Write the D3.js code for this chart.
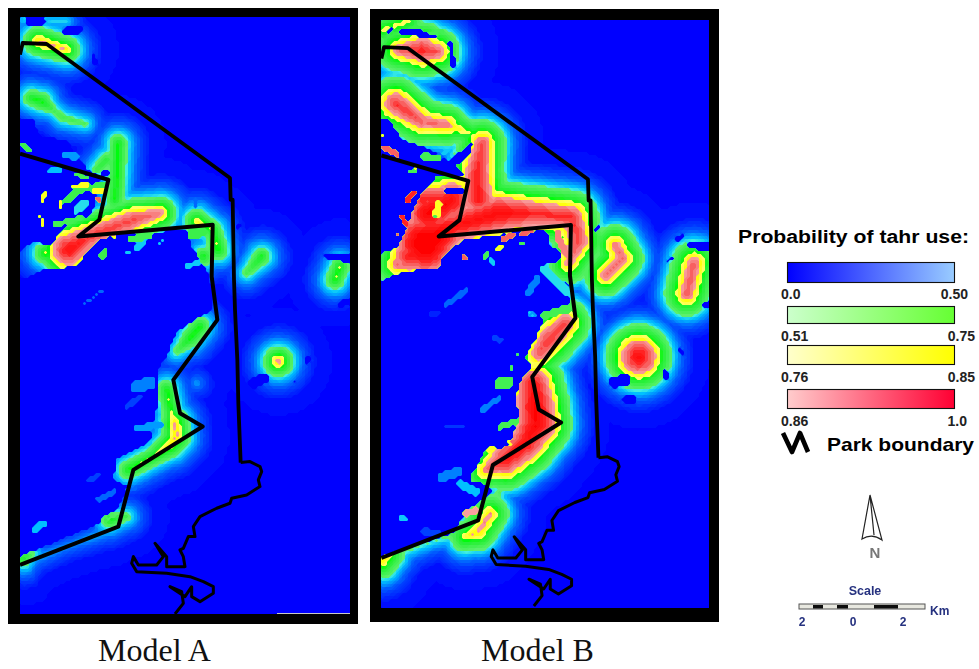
<!DOCTYPE html>
<html><head><meta charset="utf-8">
<script src="https://cdn.jsdelivr.net/npm/d3@7"></script>
<style>html,body{margin:0;background:#fff}svg{display:block}</style></head>
<body><div id="c"></div>
<script>
// ---- Map data, in map-grid units ----
// park boundary: shared by both models
const parkWest = [[60,462],[325,540],[298,660],[235,710],[638,675],[635,830],[652,960],[652,960],[520,1140],[540,1240],[608,1280],[400,1410],[355,1580],[60,1695]];
const parkEast = [[60,165],[68,130],[140,133],[690,535],[692,600],[698,600],[702,840],[705,930],[712,1080],[715,1210],[722,1388]];
const coast = [[722,1388],[750,1385],[780,1400],[785,1415],[775,1440],[780,1460],[740,1485],[695,1495],[690,1510],[650,1525],[600,1550],[580,1580],[585,1610],[565,1610],[550,1645],[540,1650],[550,1670],[555,1700],[500,1700],[500,1670],[465,1630],[490,1670],[470,1695],[415,1695],[400,1670],[395,1690],[410,1715],[500,1720],[570,1730],[610,1745],[640,1760],[640,1780],[600,1805],[575,1790],[575,1760],[555,1790],[510,1760],[545,1775],[550,1810],[525,1842]];

// probability ridges: [x, y, core half-width]
const ridgesA = [
 [[115,125,5],[200,150,0]], [[70,60,-45],[200,65,-45]],
 [[95,295,-15],[125,305,-12],[165,335,-30],[190,355,-28],[255,372,-32]],
 [[355,430,-13],[350,540,-13],[345,600,-13]], [[320,480,-20],[290,510,-25]],
 [[205,750,45],[270,710,28],[400,660,24],[480,640,10]],
 [[590,665,-3],[640,690,-14],[655,750,-10]], [[610,770,-13]],
 [[200,790,0]], [[135,760,-8]],
 [[785,770,-14],[740,820,-28]], [[1005,840,-12],[1020,800,-12]], [[720,850,-70]],
 [[530,1055,-30],[570,1015,-12],[600,980,-12]],
 [[500,1170,-12],[515,1240,-12],[525,1270,3],[530,1310,3],[510,1335,0],[460,1370,-12],[385,1410,-12]],
 [[330,1560,-15],[380,1550,-28]], [[70,1675,-15],[100,1660,-35]],
 [[835,1085,6]],
 [[60,1695,-50],[200,1640,-58],[320,1595,-50]], [[390,1530,-50]], [[590,1150,-55]]
];
const ridgesB = [
 [[100,150,15],[170,150,35],[215,155,20]], [[130,62,-10],[55,90,-10]],
 [[90,310,30],[170,365,20]], [[170,365,16],[245,375,12]], [[245,375,5],[320,400,-15]],
 [[350,430,22],[335,520,35],[340,600,40]],
 [[180,730,85],[260,680,45],[400,640,50],[500,640,35],[620,650,30],[640,720,25],[610,790,10]],
 [[100,790,18]], [[130,770,40],[200,760,50]], [[190,640,60],[260,600,50]], [[170,600,35],[230,590,30]],
 [[750,735,12],[770,775,15],[720,825,14]], [[985,790,18],[965,880,18]],
 [[600,970,25],[550,1020,30],[520,1060,20]],
 [[505,1155,45],[510,1220,55],[515,1270,55],[480,1330,45],[420,1380,40],[360,1410,10]],
 [[375,1540,5],[340,1595,5],[300,1610,-5]],
 [[60,1665,5],[50,1690,-5]],
 [[820,1070,50]],
 [[50,1675,-40],[200,1625,-50],[265,1600,-40]], [[400,1480,-40]]
];
// solid low-probability areas
const cutsA = [
 [[0,840],[60,840],[130,810],[230,800],[255,765],[300,720],[360,700],[500,695],[580,690],[570,730],[600,780],[625,820],[640,900],[640,930],[600,950],[530,1000],[500,1070],[470,1120],[470,1230],[450,1330],[350,1380],[340,1440],[390,1460],[350,1530],[305,1555],[300,1570],[110,1650],[60,1670],[0,1690]],
 [[0,360],[100,360],[120,410],[200,420],[230,470],[265,510],[310,530],[300,575],[270,650],[210,665],[150,740],[100,725],[60,755],[0,760]]
];
const cutsB = [
 [[0,840],[47,840],[100,820],[170,805],[220,810],[230,770],[290,720],[400,705],[450,690],[545,690],[550,730],[590,760],[580,790],[540,790],[560,830],[610,850],[620,930],[540,930],[530,970],[510,1020],[480,1070],[500,1100],[470,1140],[450,1190],[460,1240],[450,1290],[430,1340],[360,1350],[340,1390],[310,1440],[370,1455],[385,1475],[310,1530],[280,1570],[265,1600],[100,1650],[47,1670],[0,1680]],
 [[0,360],[75,360],[110,420],[180,440],[250,480],[330,420],[310,470],[270,500],[310,530],[215,530],[165,590],[140,640],[120,700],[100,740],[47,760],[0,760]]
];
// small patches: [probability, half-width, ...points]
const patchesA = [
 [0,10,[85,65],[130,65]],[0,12,[200,95],[240,90]],[0,6,[280,165],[285,190]],
 [.62,8,[72,435],[85,450]],[.35,12,[200,465],[225,470]],[.4,8,[150,515],[180,510]],
 [0,10,[310,520],[320,520]],[.6,6,[230,525],[265,535]],
 [.9,4,[140,585],[128,600]],[.82,6,[135,580],[126,605]],
 [.62,9,[195,605],[240,570],[310,555]],[.82,6,[215,560],[260,555]],[.82,5,[185,600],[180,620]],
 [.82,8,[285,575],[310,570]],[.9,7,[295,595],[300,600]],
 [.6,8,[165,675],[240,655]],[.45,12,[230,630],[255,610]],[.82,5,[122,650],[130,675]],
 [.62,8,[305,770],[315,755]],[.82,4,[340,715],[345,712]],
 [.6,10,[395,720],[450,705]],[.42,9,[410,745],[430,730]],[.42,5,[375,755],[385,755]],[.42,6,[480,730],[490,720]],
 [.62,14,[575,705],[610,695]],[.42,8,[590,790],[560,800]],
 [.25,4,[250,915],[310,870]],[0,5,[710,685],[720,675]],
 [0,12,[985,770],[1045,775]],[0,10,[1020,915],[1040,905]],[.25,6,[585,600],[585,620]],
 [.3,18,[410,1160],[450,1150]],[.2,8,[380,1220],[420,1190]],[.35,10,[415,1285],[480,1275]],
 [.42,6,[440,1335],[450,1330]],[.25,7,[295,1500],[345,1475]],[.2,8,[270,1440],[295,1425]],
 [.4,10,[105,1590],[130,1570]],[.55,4,[322,1560],[345,1545]],
 [0,16,[760,1150],[795,1135]],[0,4,[880,1140],[885,1145]],[0,7,[920,1090],[925,1075]],[.25,6,[385,1470],[410,1465]]
];
const patchesB = [
 [0,7,[80,85],[70,100]],[0,10,[110,95],[205,105]],[.6,5,[195,100],[235,90]],[0,7,[255,130],[265,200]],
 [.9,9,[60,445],[95,462]],[.82,3,[50,400],[52,410]],[.6,12,[180,470],[212,475]],[.42,5,[235,462],[245,450]],[.6,5,[132,518],[150,515]],[.82,3,[145,505],[150,505]],
 [.95,8,[145,578],[125,602]],[.95,5,[110,650],[125,680]],[.9,4,[92,702],[95,705]],
 [0,9,[245,570],[295,572]],[.82,12,[215,640],[220,610]],[.6,6,[205,650],[215,650]],
 [.9,8,[415,718],[440,705]],[.82,8,[400,745],[405,740]],[.9,7,[470,700],[495,695]],[.9,7,[295,765],[298,775]],
 [.6,5,[355,775],[365,760]],[.42,7,[378,780],[385,790]],[.6,3,[440,742],[442,740]],[.6,6,[470,730],[472,728]],
 [.88,10,[575,700],[600,760]],[.45,12,[535,805],[610,880]],[.25,8,[240,915],[305,870]],[.15,8,[195,940],[215,938]],
 [.35,7,[490,940],[510,945]],[.3,10,[490,880],[515,835]],[.6,12,[540,945],[610,925]],
 [0,6,[700,680],[690,690]],[0,6,[910,780],[920,775]],[0,8,[935,720],[950,710]],[0,12,[980,735],[1040,740]],[0,10,[1020,915],[1040,905]],
 [.95,3,[48,870],[48,890]],[.82,3,[48,840],[48,860]],
 [.82,2,[48,1000],[48,1005]],[.82,3,[48,1380],[48,1390]],[.82,2,[48,1565],[48,1570]],
 [.2,8,[385,1010],[405,1020]],[.6,18,[405,1150],[425,1145]],[.3,8,[350,1230],[400,1195]],[.6,9,[405,1280],[450,1265]],
 [.6,4,[437,1100],[440,1105]],[.6,4,[455,1065],[458,1068]],[.82,5,[432,1322],[436,1330]],[.82,6,[365,1350],[385,1345]],
 [.3,14,[230,1430],[280,1415]],[.4,12,[285,1450],[330,1475]],[.85,10,[300,1540],[330,1530]],
 [.42,7,[105,1555],[120,1555]],[.6,4,[97,1580],[100,1582]],[.2,12,[180,1595],[215,1600]],[.18,5,[240,1275],[295,1275]],
 [0,18,[750,1145],[780,1140]],[0,14,[785,1195],[800,1200]],[0,9,[900,1115],[905,1130]],[0,6,[945,1050],[950,1065]],
 [.42,4,[495,940],[505,945]]
];
// colour scale of the probability surface and the legend
const probStops = [0,.1,.2,.3,.4,.5,.51,.7,.75,.76,.85,.86,.9,.94,1];
const probColors = ["#0000ff","#0010ff","#0040ff","#0080ff","#00c0ff","#40f0e0","#60f070","#20f030","#00ff00","#ffff60","#ffff00","#f8a0a0","#f86060","#ff2020","#ff0000"];
const legendLabels = [["0.0","0.50"],["0.51","0.75"],["0.76","0.85"],["0.86","1.0"]];
const legendRamps = [["#0000ff","#99ccff"],["#ccffcc","#66ff33"],["#ffffcc","#ffff00"],["#ffcccc","#ff0033"]];
const titles = ["Model A","Model B"];
const legendTitle = "Probability of tahr use:", parkLabel = "Park boundary";
const scaleLabels = ["2","0","2"];
const profileS = [-55,0,12,40,50,70,110,200], profileP = [1,.86,.76,.51,.4,.25,.1,0];
const profileSB = [-55,0,14,50,60,80,120,210];

// ---- Drawing ----
const W=979,H=669;
const svg=d3.select("#c").append("svg").attr("width",W).attr("height",H);
const defs=svg.append("defs");
defs.append("filter").attr("id","soft").append("feGaussianBlur").attr("stdDeviation",.55);
defs.append("filter").attr("id","soft2").append("feGaussianBlur").attr("stdDeviation",.5);
const color=d3.scaleLinear().domain(probStops).range(probColors).clamp(true);

function segDist(px,py,a,b){
  if(!b){return [Math.hypot(px-a[0],py-a[1]),a[2]];}
  const dx=b[0]-a[0],dy=b[1]-a[1],l=dx*dx+dy*dy;
  const t=l?Math.max(0,Math.min(1,((px-a[0])*dx+(py-a[1])*dy)/l)):0;
  return [Math.hypot(px-a[0]-t*dx,py-a[1]-t*dy),(a[2]||0)+t*((b[2]||0)-(a[2]||0))];
}
function field(px,py,ridges,cuts,patches,profile){
  let p=0;
  for(const r of ridges){
    for(let i=0;i<Math.max(1,r.length-1);i++){
      const [d,c]=segDist(px,py,r[i],r[i+1]);
      p=Math.max(p,profile(d-c));
    }
  }
  for(const c of cuts) if(d3.polygonContains(c,[px,py])) p=0;
  for(const q of patches){
    for(let i=2;i<q.length-1;i++){
      if(segDist(px,py,q[i],q[i+1])[0]<=q[1]) p=q[0];
    }
  }
  return p;
}
const panels=[
 {title:titles[0],frame:[8,8,350,616],inner:[20,17,330,597],
  fx:d3.scaleLinear().domain([60,1050]).range([20,350]),fy:d3.scaleLinear().domain([52,1842]).range([17,614]),
  bx:d3.scaleLinear().domain([60,1050]).range([20,350]),by:d3.scaleLinear().domain([52,1842]).range([17,614]),
  ridges:ridgesA,cuts:cutsA,patches:patchesA,tx:154.5,
  prof:d3.scaleLinear().domain(profileS).range(profileP).clamp(true)},
 {title:titles[1],frame:[370,9,349,613],inner:[381,20,328,588],
  fx:d3.scaleLinear().domain([47,1031]).range([381,709]),fy:d3.scaleLinear().domain([60,1823]).range([20,608]),
  bx:d3.scaleLinear().domain([60,1050]).range([381.4,706]),by:d3.scaleLinear().domain([52,1842]).range([21.6,606]),
  ridges:ridgesB,cuts:cutsB,patches:patchesB,tx:537.5,
  prof:d3.scaleLinear().domain(profileSB).range(profileP).clamp(true)}
];
const levels=d3.range(.01,1,.02).concat([.505,.755,.855]).sort(d3.ascending);
const cell=3;
panels.forEach((P,k)=>{
  const [ix,iy,iw,ih]=P.inner;
  svg.append("rect").attr("x",P.frame[0]).attr("y",P.frame[1]).attr("width",P.frame[2]).attr("height",P.frame[3]).attr("fill","#000");
  const clipId="clip"+k;
  defs.append("clipPath").attr("id",clipId).append("rect").attr("x",ix).attr("y",iy).attr("width",iw).attr("height",ih);
  const g=svg.append("g").attr("clip-path",`url(#${clipId})`);
  g.append("rect").attr("x",ix).attr("y",iy).attr("width",iw).attr("height",ih).attr("fill","#0000ff");
  const nx=Math.ceil(iw/cell),ny=Math.ceil(ih/cell),vals=new Float64Array(nx*ny);
  for(let j=0;j<ny;j++)for(let i=0;i<nx;i++){
    vals[j*nx+i]=field(P.fx.invert(ix+(i+.5)*cell),P.fy.invert(iy+(j+.5)*cell),P.ridges,P.cuts,P.patches,P.prof);
  }
  const contours=d3.contours().size([nx,ny]).smooth(false).thresholds(levels)(vals);
  const path=d3.geoPath(d3.geoIdentity().scale(cell).translate([ix,iy]));
  g.append("g").attr("filter","url(#soft)").selectAll("path").data(contours).join("path")
    .attr("d",path).attr("fill",d=>color(d.value+.01)).attr("stroke","none");
  const line=d3.line().x(d=>P.bx(d[0])).y(d=>P.by(d[1]));
  [[parkWest,4],[parkEast,3.8],[coast,3]].forEach(([pts,w])=>{
    g.append("path").attr("d",line(pts)).attr("fill","none").attr("stroke","#000").attr("stroke-width",w).attr("stroke-linejoin","round");
  });
  svg.append("text").attr("x",P.tx).attr("y",661).attr("text-anchor","middle")
    .attr("font-family","'Liberation Serif'").attr("font-size",32).attr("fill","#111").text(P.title);
});
// sliver of grey along the bottom of Model A's inner map
svg.append("line").attr("x1",277).attr("x2",350).attr("y1",613.5).attr("y2",613.5).attr("stroke","#c8c8c8").attr("stroke-width",1);

// legend
const font="'Liberation Sans'";
svg.append("text").attr("x",738).attr("y",243).attr("font-family",font).attr("font-weight","bold").attr("font-size",17.5).attr("textLength",231).attr("lengthAdjust","spacingAndGlyphs").attr("fill","#000").text(legendTitle);
const rampY=[262,306,345,389],rampH=[20,17,19,19],labelY=[299,341,382,426];
const rightX=[968,975,975,967];
legendRamps.forEach((r,i)=>{
  const id="ramp"+i;
  const lg=defs.append("linearGradient").attr("id",id);
  lg.append("stop").attr("offset","0%").attr("stop-color",r[0]);
  lg.append("stop").attr("offset","100%").attr("stop-color",r[1]);
  svg.append("rect").attr("x",787.5).attr("y",rampY[i]+.5).attr("width",167).attr("height",rampH[i]).attr("fill",`url(#${id})`).attr("stroke","#111").attr("stroke-width",1.1);
  svg.append("text").attr("x",781).attr("y",labelY[i]).attr("font-family",font).attr("font-weight","bold").attr("font-size",14).attr("fill","#222").text(legendLabels[i][0]);
  svg.append("text").attr("x",rightX[i]).attr("y",labelY[i]).attr("text-anchor","end").attr("font-family",font).attr("font-weight","bold").attr("font-size",14).attr("fill","#222").text(legendLabels[i][1]);
});
svg.append("path").attr("d","M783,433L792,452L800,433L808,452").attr("fill","none").attr("stroke","#000").attr("stroke-width",4.6).attr("stroke-linejoin","round");
svg.append("text").attr("x",827).attr("y",451).attr("font-family",font).attr("font-weight","bold").attr("font-size",18.5).attr("textLength",147).attr("lengthAdjust","spacingAndGlyphs").attr("fill","#000").text(parkLabel);

// north arrow and scale bar
const deco=svg.append("g").attr("filter","url(#soft2)");
deco.append("path").attr("d","M870,495L862,539Q872,533 882,540Z M870,495L874,535").attr("fill","none").attr("stroke","#222").attr("stroke-width",1.2);
deco.append("text").attr("x",875).attr("y",558).attr("text-anchor","middle").attr("font-family",font).attr("font-weight","bold").attr("font-size",15).attr("fill","#777").text("N");
deco.append("text").attr("x",865).attr("y",595).attr("text-anchor","middle").attr("font-family",font).attr("font-weight","bold").attr("font-size",12.5).attr("fill","#25307f").text("Scale");
deco.append("rect").attr("x",799).attr("y",604).attr("width",126).attr("height",5).attr("fill","#e8e8e0").attr("stroke","#555").attr("stroke-width",1);
[[813,10],[837,11],[874,24]].forEach(s=>deco.append("rect").attr("x",s[0]).attr("y",605).attr("width",s[1]).attr("height",3.5).attr("fill","#111"));
deco.append("text").attr("x",930).attr("y",615).attr("font-family",font).attr("font-weight","bold").attr("font-size",12).attr("fill","#25307f").text("Km");
[802,853,903].forEach((x,i)=>deco.append("text").attr("x",x).attr("y",626).attr("text-anchor","middle").attr("font-family",font).attr("font-weight","bold").attr("font-size",12).attr("fill","#25307f").text(scaleLabels[i]));
</script></body></html>
